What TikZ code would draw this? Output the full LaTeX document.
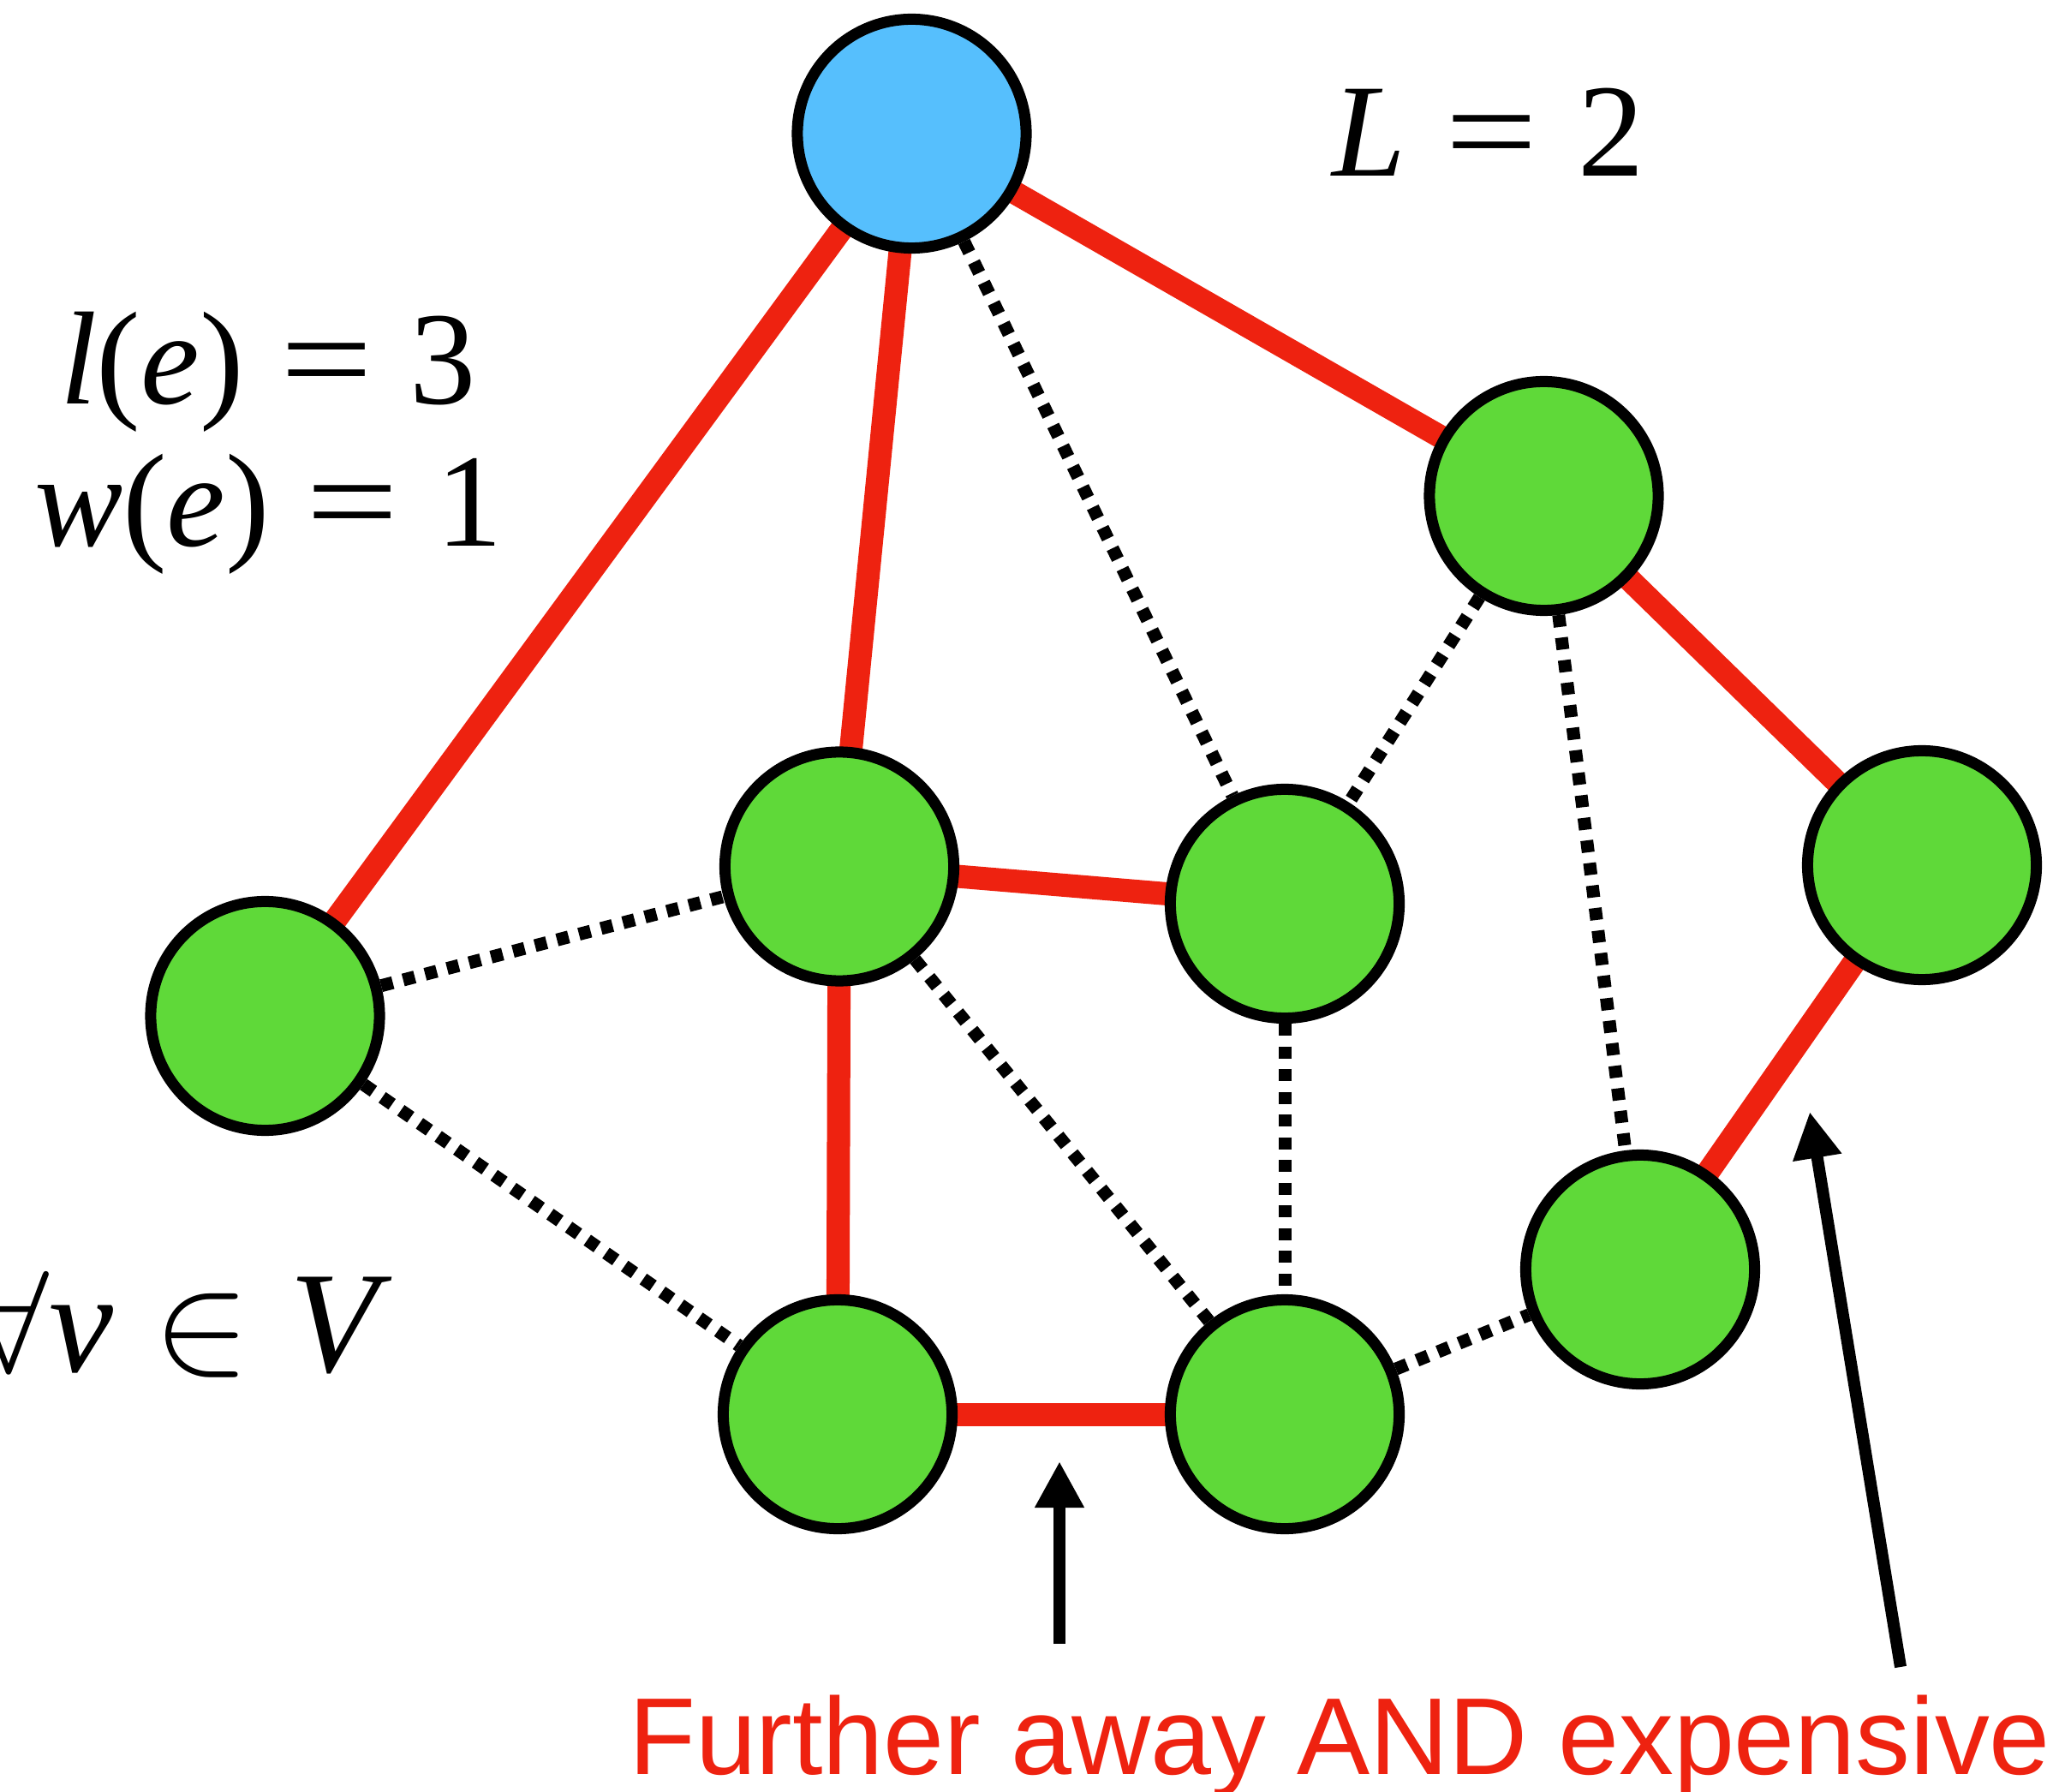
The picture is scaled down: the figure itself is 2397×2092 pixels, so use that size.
\RequirePackage{fix-cm}
\documentclass[tikz,border=0pt]{standalone}
\usepackage{graphicx}
\usepackage{fontspec}
\setmainfont{Liberation Serif}
\newfontfamily\sansf{Liberation Sans}
\usetikzlibrary{arrows.meta}
\definecolor{nodeblue}{RGB}{86,191,253}
\definecolor{nodegreen}{RGB}{95,217,57}
\definecolor{edgered}{RGB}{238,34,16}
\newcommand{\wideeq}{\scalebox{1.24}[1]{=}}
\pgfdeclarelayer{background}
\pgfsetlayers{background,main}
\begin{document}
\begin{tikzpicture}[x=0.01cm,y=-0.01cm,
  vertex/.style={circle,draw=black,line width=0.13cm,minimum size=2.67cm,inner sep=0pt},
  gvertex/.style={vertex,fill=nodegreen},
  rededge/.style={draw=edgered,line width=0.27cm,shorten <=-0.06cm,shorten >=-0.06cm},
  dotedge/.style={draw=black,line width=0.15cm,dash pattern=on 0.14cm off 0.125cm},
  pointer/.style={draw=black,line width=0.14cm,-{Triangle[length=0.54cm,width=0.54cm]}},
  lbl/.style={inner sep=0pt,outer sep=0pt},
  mathlbl/.style={lbl,font=\fontsize{44}{44}\selectfont}]
\useasboundingbox (0,0) rectangle (2397,2092);
% vertices
\node[vertex,fill=nodeblue] (T) at (1064.5,156) {};
\node[gvertex] (A) at (1802.5,579) {};
\node[gvertex] (B) at (2244,1010) {};
\node[gvertex] (C) at (309.5,1186) {};
\node[gvertex] (D) at (980,1011.5) {};
\node[gvertex] (E) at (1500,1055) {};
\node[gvertex] (F) at (978,1651) {};
\node[gvertex] (G) at (1500,1651) {};
\node[gvertex] (H) at (1915,1482) {};
% edges
\begin{pgfonlayer}{background}
\draw[rededge] (T) -- (C);
\draw[rededge] (T) -- (D);
\draw[rededge] (T) -- (A);
\draw[rededge] (A) -- (B);
\draw[rededge] (B) -- (H);
\draw[rededge] (D) -- (E);
\draw[rededge] (D) -- (F);
\draw[rededge] (F) -- (G);
\draw[dotedge] (T) -- (E);
\draw[dotedge] (A) -- (E);
\draw[dotedge] (A) -- (H);
\draw[dotedge] (C) -- (D);
\draw[dotedge] (C) -- (F);
\draw[dotedge] (D) -- (G);
\draw[dotedge] (E) -- (G);
\draw[dotedge] (G) -- (H);
\end{pgfonlayer}
% labels
\node[mathlbl,anchor=base west] (Ltxt) at (1555,206) {\textit{L}\hspace{0.3em}\wideeq\hspace{0.3em}2};
\node[mathlbl,anchor=base west] (ltxt) at (70,472) {\textit{l}(\textit{e})\hspace{0.278em}\wideeq\hspace{0.278em}3};
\node[mathlbl,anchor=base west] (wtxt) at (40,638) {\textit{w}(\textit{e})\hspace{0.278em}\wideeq\hspace{0.278em}1};
\node[lbl,anchor=base east,font=\fontsize{48}{48}\selectfont] (vtxt) at (458,1601) {$\forall$\textit{v}\hspace{0.278em}$\in$\hspace{0.278em}\textit{V}};
\node[lbl,anchor=base west,text=edgered,font=\sansf\fontsize{36.3}{36.3}\selectfont] (cap) at (734,2071) {Further away AND expensive};
% pointers
\coordinate (a1t) at (1237,1919);
\coordinate (a1h) at (1237,1706);
\draw[pointer] (a1t) -- (a1h);
\coordinate (a2t) at (2219,1946);
\coordinate (a2h) at (2113,1298);
\draw[pointer] (a2t) -- (a2h);
\end{tikzpicture}
\end{document}
